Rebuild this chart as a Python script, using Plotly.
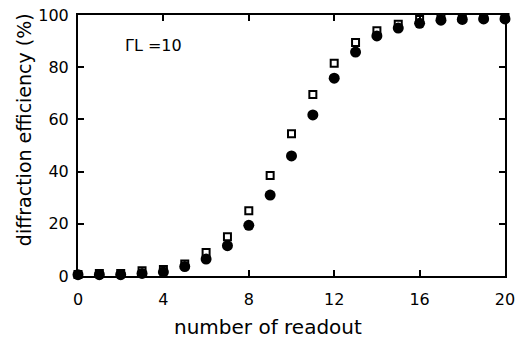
import plotly.graph_objects as go

readout = list(range(0, 21))
filled_circles = [0.5, 0.5, 0.5, 1.0, 1.5, 3.6, 6.5, 11.6, 19.4, 31.0, 46.0, 61.7, 75.8, 85.8, 92.0, 95.0, 96.8, 98.0, 98.3, 98.5, 98.5]
open_squares = [0.6, 1.0, 1.0, 2.0, 2.5, 4.6, 9.0, 15.0, 25.0, 38.5, 54.5, 69.5, 81.5, 89.5, 94.0, 96.5, 98.3, 98.8, 99.0, 99.0, 99.0]

x_ticks = [0, 4, 8, 12, 16, 20]
y_ticks = [0, 20, 40, 60, 80, 100]

FONT = "DejaVu Sans"

fig = go.Figure()
fig.add_trace(go.Scatter(
    x=readout, y=open_squares, mode="markers",
    marker=dict(symbol="square-open", size=7, color="black", line=dict(width=2, color="black")),
    showlegend=False, cliponaxis=False))
fig.add_trace(go.Scatter(
    x=readout, y=filled_circles, mode="markers",
    marker=dict(symbol="circle", size=11, color="black"),
    showlegend=False, cliponaxis=False))

fig.add_annotation(x=0.105, y=0.885, xref="paper", yref="paper", text="ΓL =10",
                   showarrow=False, xanchor="left", yanchor="middle",
                   font=dict(family=FONT, size=16, color="black"))
fig.add_annotation(x=0.445, y=-0.195, xref="paper", yref="paper", text="number of readout",
                   showarrow=False, xanchor="center", yanchor="middle",
                   font=dict(family=FONT, size=20, color="black"))
fig.add_annotation(x=-0.128, y=0.56, xref="paper", yref="paper", text="diffraction efficiency (%)",
                   showarrow=False, xanchor="center", yanchor="middle", textangle=-90,
                   font=dict(family=FONT, size=19, color="black"))

axis_common = dict(showgrid=False, zeroline=False, showline=True, linecolor="black", linewidth=2,
                   mirror="ticks", ticks="inside", ticklen=6, tickwidth=1.5, tickcolor="black",
                   tickfont=dict(family=FONT, size=16, color="black"), automargin=False)

fig.update_xaxes(range=[0, 20], tickvals=x_ticks, ticktext=[str(v) for v in x_ticks],
                 ticklabelstandoff=8, **axis_common)
fig.update_yaxes(range=[0, 100], tickvals=y_ticks, ticktext=[str(v) for v in y_ticks],
                 ticklabelstandoff=4, **axis_common)

fig.update_layout(width=517, height=341, margin=dict(l=78, r=12, t=15, b=65),
                  plot_bgcolor="white", paper_bgcolor="white")

fig.write_html("out.html")
